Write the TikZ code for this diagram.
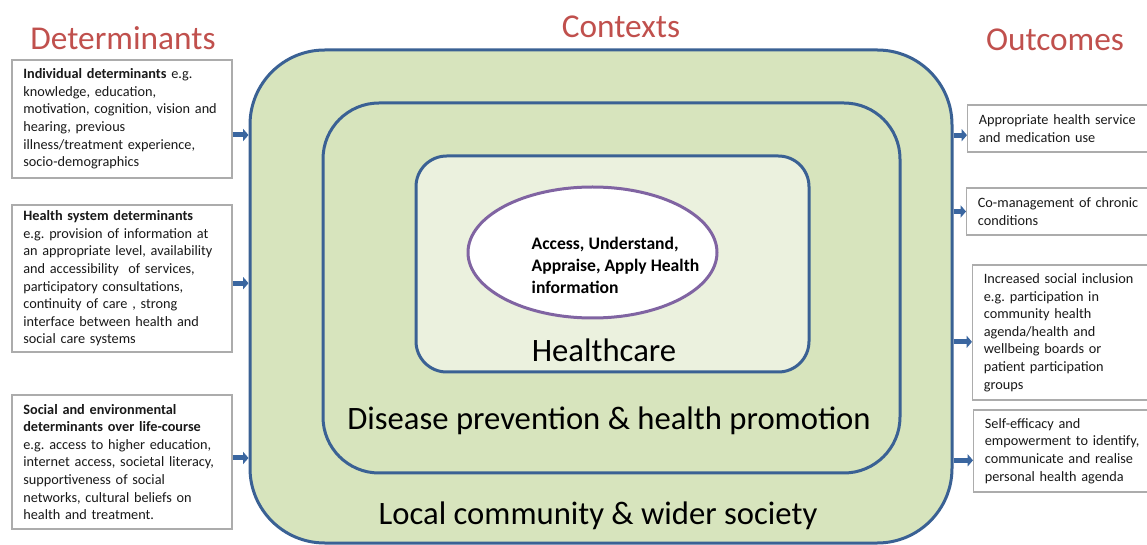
\documentclass[tikz,border=0pt]{standalone}
\usepackage{fontspec}
\setmainfont{Carlito}
\usepackage{xcolor}
\usepackage{tikz}
\usetikzlibrary{positioning,arrows.meta}
\usetikzlibrary{shapes.geometric}
\definecolor{ringblue}{HTML}{3A6194}
\definecolor{arrowblue}{HTML}{3A66A0}
\definecolor{ringgreen}{HTML}{D7E4BD}
\definecolor{corefill}{HTML}{EBF1DE}
\definecolor{headred}{HTML}{C0504D}
\definecolor{corepurple}{HTML}{8064A2}
\definecolor{boxgray}{HTML}{ACACAC}
\tikzset{
  ring/.style={draw=ringblue, line width=2.25pt, inner sep=0pt},
  infobox/.style={draw=boxgray, line width=0.8pt, fill=white, align=left,
    inner xsep=8.5pt, inner ysep=0pt, text=black!90,
    font=\fontsize{10.7}{13.2}\selectfont},
  feed/.style={draw=arrowblue, line width=3.75pt, -{Triangle[length=4pt,width=9pt]}},
  heading/.style={text=headred, font=\fontsize{25}{29}\selectfont},
  ringlabel/.style={text=black, font=\fontsize{24.5}{29}\selectfont}
}
\frenchspacing

\begin{document}
\begin{tikzpicture}[x=0.75pt,y=-0.75pt]
\useasboundingbox (0,0) rectangle (1147,545);
% nested contexts
\node[ring, fill=ringgreen, rounded corners=56pt, minimum width=526.5pt, minimum height=369.75pt] (society) at (601,296.5) {};
\node[ring, fill=ringgreen, rounded corners=42pt, minimum width=432.75pt, minimum height=277.5pt] (prevention) at (611.5,288) {};
\node[ring, fill=corefill, rounded corners=23pt, minimum width=294.75pt, minimum height=162pt] (healthcare) at (612.5,264) {};
\node[ellipse, draw=corepurple, line width=2.25pt, fill=white, minimum width=186.75pt, minimum height=98.25pt] (core) at (592.5,252.5) {};
\node[anchor=west, align=left, font=\bfseries\fontsize{13.2}{16.5}\selectfont] (coretext) at (527,265)
  {Access, Understand,\\Appraise, Apply Health\\information};
%
\node[ringlabel] (l1) at (604,350) {Healthcare};
\node[ringlabel] (l2) at (609,421) {Disease prevention \& health promotion};
\node[ringlabel] (l3) at (598,516) {Local community \& wider society};
%
\node[heading] (h1) at (123,38) {Determinants};
\node[heading] (h2) at (621,27) {Contexts};
\node[heading] (h3) at (1055,40) {Outcomes};
%
% determinants
\node[infobox, text width=148pt, minimum height=88.5pt] (det1) at (122,119) {\textbf{Individual determinants} e.g.\\knowledge, education,\\motivation, cognition, vision and\\hearing, previous\\illness/treatment experience,\\socio-demographics};
\node[infobox, text width=148pt, minimum height=110.25pt] (det2) at (122,278.5) {\textbf{Health system determinants}\\e.g. provision of information at\\an appropriate level, availability\\and accessibility\ \ of services,\\participatory consultations,\\continuity of care , strong\\interface between health and\\social care systems};
\node[infobox, text width=148pt, minimum height=100.5pt] (det3) at (122,462) {\textbf{Social and environmental}\\\textbf{determinants over life-course}\\e.g. access to higher education,\\internet access, societal literacy,\\supportiveness of social\\networks, cultural beliefs on\\health and treatment.};
%
% outcomes
\node[infobox, text width=133pt, minimum height=35.25pt, anchor=west] (out1) at (967,128.5) {Appropriate health service\\and medication use};
\node[infobox, text width=133pt, minimum height=35.25pt, anchor=west] (out2) at (966,211.5) {Co-management of chronic\\conditions};
\node[infobox, text width=133pt, minimum height=101.25pt, anchor=west] (out3) at (972,332.5) {Increased social inclusion\\e.g. participation in\\community health\\agenda/health and\\wellbeing boards or\\patient participation\\groups};
\node[infobox, text width=133pt, minimum height=61.5pt, anchor=west] (out4) at (973,451) {Self-efficacy and\\empowerment to identify,\\communicate and realise\\personal health agenda};
%
\coordinate (d1) at ([yshift=-12pt]det1.east);
\coordinate (d2) at ([yshift=-3.5pt]det2.east);
\coordinate (d3) at ([yshift=3pt]det3.east);
\draw[feed] (d1) -- (d1 -| society.west);
\draw[feed] (d2) -- (d2 -| society.west);
\draw[feed] (d3) -- (d3 -| society.west);
%
\coordinate (o1) at ([yshift=-5pt]out1.west);
\coordinate (o2) at (out2.west);
\coordinate (o3) at ([yshift=-7pt]out3.west);
\coordinate (o4) at ([yshift=-7pt]out4.west);
\draw[feed] (o1 -| society.east) -- (o1);
\draw[feed] (o2 -| society.east) -- (o2);
\draw[feed] (o3 -| society.east) -- (o3);
\draw[feed] (o4 -| society.east) -- (o4);
\end{tikzpicture}
\end{document}
